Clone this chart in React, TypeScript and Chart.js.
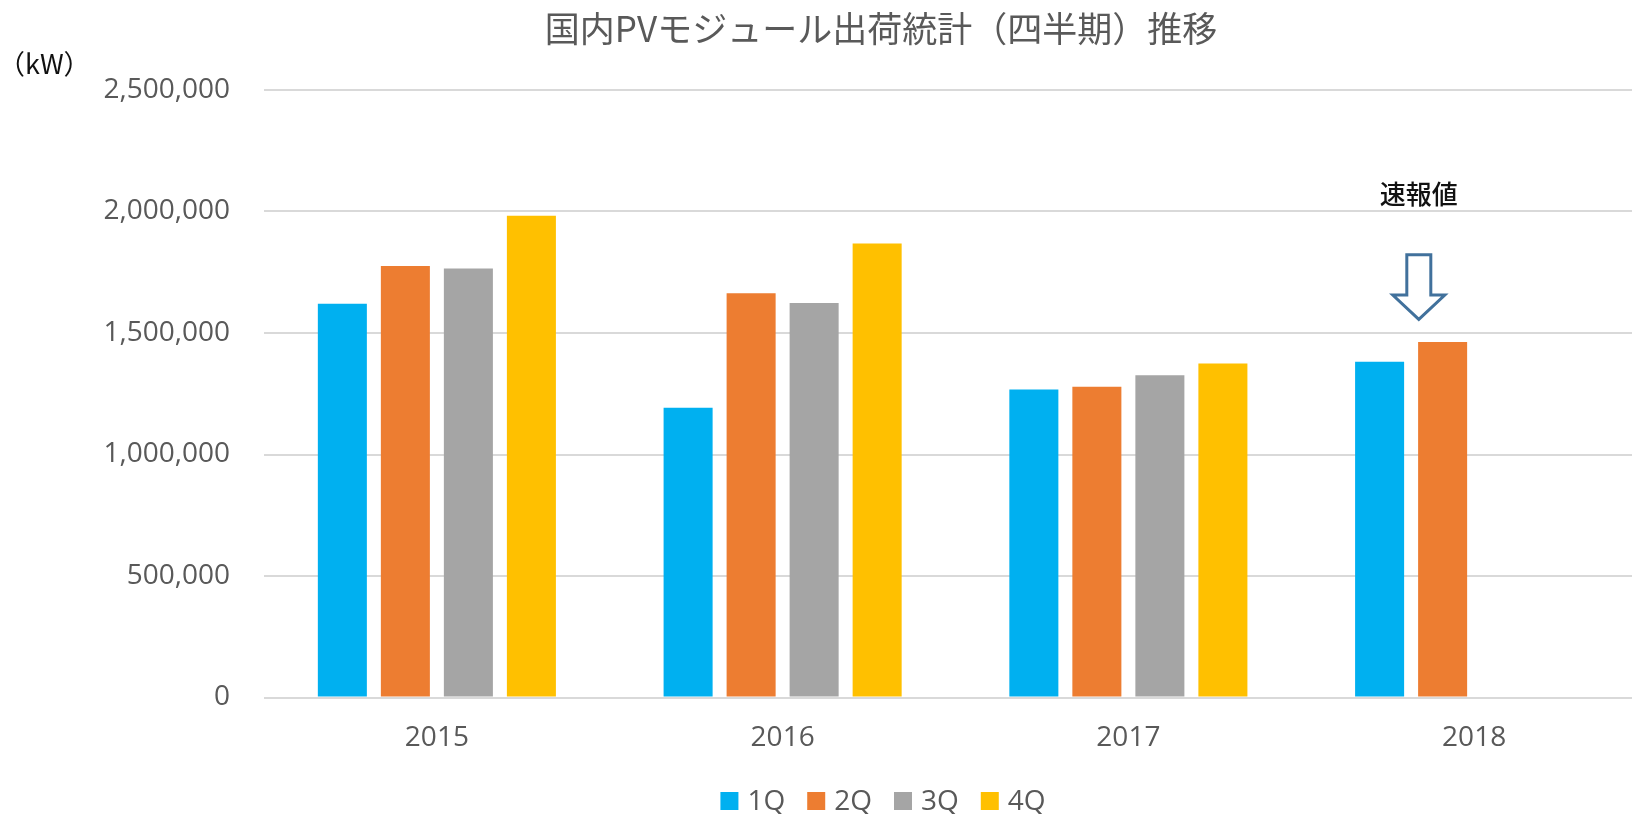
import React, { useEffect, useRef } from "react";
import { Chart, registerables } from "chart.js";

Chart.register(...registerables);

const CATEGORIES = ["2015", "2016", "2017", "2018"];
const SERIES_LABELS = ["1Q", "2Q", "3Q", "4Q"];
const Q1 = [1620000, 1192000, 1268000, 1382000];
const Q2 = [1776000, 1664000, 1279000, 1463000];
const Q3 = [1765000, 1623000, 1326000, null];
const Q4 = [1982000, 1868000, 1375000, null];
const SERIES_COLORS = ["#00B0F0", "#ED7D31", "#A5A5A5", "#FFC000"];
const Y_MIN = 0;
const Y_MAX = 2500000;
const Y_STEP = 500000;

const TITLE = "国内PVモジュール出荷統計（四半期）推移";
const Y_UNIT = "（kW）";
const NOTE_TEXT = "速報値";
const NOTE_CATEGORY = 3;
const NOTE_OFFSET = -0.16; // fraction of category width
const NOTE_TEXT_VALUE = 2070000;
const ARROW_TOP_VALUE = 1822000;
const ARROW_HEAD_VALUE = 1656000;
const ARROW_TIP_VALUE = 1556000;

const TEXT_COLOR = "#595959";
const GRID_COLOR = "#D9D9D9";
const LATIN_FONT = '"Open Sans"';
const CJK_FONT = '"Noto Sans CJK JP"';
const TICK_SIZE = 28;

const annotationPlugin = {
  id: "noteAnnotation",
  afterDatasetsDraw(chart: any) {
    const ctx = chart.ctx;
    const xs = chart.scales.x;
    const ys = chart.scales.y;
    const catW = xs.width / CATEGORIES.length;
    const cx = xs.getPixelForValue(NOTE_CATEGORY) + NOTE_OFFSET * catW;
    ctx.save();
    ctx.font = `500 26px ${CJK_FONT}`;
    ctx.fillStyle = "#111111";
    ctx.textAlign = "center";
    ctx.textBaseline = "middle";
    ctx.fillText(NOTE_TEXT, cx, ys.getPixelForValue(NOTE_TEXT_VALUE));
    const top = ys.getPixelForValue(ARROW_TOP_VALUE);
    const head = ys.getPixelForValue(ARROW_HEAD_VALUE);
    const tip = ys.getPixelForValue(ARROW_TIP_VALUE);
    const sw = 12;
    const hw = 26;
    ctx.beginPath();
    ctx.moveTo(cx - sw, top);
    ctx.lineTo(cx + sw, top);
    ctx.lineTo(cx + sw, head);
    ctx.lineTo(cx + hw, head);
    ctx.lineTo(cx, tip);
    ctx.lineTo(cx - hw, head);
    ctx.lineTo(cx - sw, head);
    ctx.closePath();
    ctx.fillStyle = "#FFFFFF";
    ctx.fill();
    ctx.lineWidth = 3;
    ctx.strokeStyle = "#41719C";
    ctx.lineJoin = "miter";
    ctx.stroke();
    ctx.restore();
  },
  afterDraw(chart: any) {
    const ctx = chart.ctx;
    const ys = chart.scales.y;
    const area = chart.chartArea;
    ctx.save();
    // unit label
    ctx.font = `27px ${CJK_FONT}`;
    ctx.fillStyle = "#111111";
    ctx.textAlign = "left";
    ctx.textBaseline = "middle";
    ctx.fillText(Y_UNIT, -2, ys.getPixelForValue(Y_MAX) - 26);

    // legend
    ctx.font = `${TICK_SIZE}px ${LATIN_FONT}`;
    const box = 18;
    const gap = 9;
    const between = 22;
    const widths = SERIES_LABELS.map((t) => ctx.measureText(t).width);
    const total =
      widths.reduce((a, w) => a + box + gap + w, 0) + between * (SERIES_LABELS.length - 1);
    let x = chart.width / 2 + 2 - total / 2;
    const cy = area.bottom + 103.5;
    SERIES_LABELS.forEach((t, i) => {
      ctx.fillStyle = SERIES_COLORS[i];
      ctx.fillRect(x, cy - box / 2, box, box);
      ctx.fillStyle = TEXT_COLOR;
      ctx.textBaseline = "middle";
      ctx.fillText(t, x + box + gap, cy + 1);
      x += box + gap + widths[i] + between;
    });
    ctx.restore();
  },
};

export default function App() {
  const canvasRef = useRef<HTMLCanvasElement | null>(null);

  useEffect(() => {
    let chart: Chart | null = null;
    let cancelled = false;
    const build = () => {
      if (cancelled || !canvasRef.current) return;
      const datasets = [Q1, Q2, Q3, Q4].map((data, i) => ({
        label: SERIES_LABELS[i],
        data,
        backgroundColor: SERIES_COLORS[i],
        borderWidth: 0,
        categoryPercentage: 0.729,
        barPercentage: 0.778,
        yAxisID: "y",
      }));
      chart = new Chart(canvasRef.current, {
        type: "bar",
        data: { labels: CATEGORIES, datasets },
        plugins: [annotationPlugin],
        options: {
          animation: false,
          responsive: true,
          maintainAspectRatio: false,
          layout: { padding: { left: 0, right: 0, top: 0, bottom: 0 } },
          plugins: {
            title: {
              display: true,
              text: TITLE,
              color: TEXT_COLOR,
              font: { family: CJK_FONT, size: 35, weight: "normal", lineHeight: 1.2 },
              padding: { top: 8, bottom: 40 },
            },
            legend: { display: false },
            tooltip: { enabled: false },
          },
          scales: {
            x: {
              grid: { display: false, drawTicks: false },
              border: { display: false },
              ticks: {
                color: TEXT_COLOR,
                font: { family: LATIN_FONT, size: TICK_SIZE },
                padding: 24,
              },
              afterFit: (s: any) => {
                s.height = 116.5;
              },
            },
            y: {
              min: Y_MIN,
              max: Y_MAX,
              grid: { color: GRID_COLOR, lineWidth: 2, drawTicks: false },
              border: { display: false },
              ticks: {
                stepSize: Y_STEP,
                color: TEXT_COLOR,
                font: { family: LATIN_FONT, size: TICK_SIZE },
                padding: 34,
                callback: (v: any) => Number(v).toLocaleString("en-US"),
              },
              afterFit: (s: any) => {
                s.width = 264;
              },
            },
            yRight: {
              position: "right",
              display: true,
              grid: { display: false, drawTicks: false },
              border: { display: false },
              ticks: { display: false },
              afterFit: (s: any) => {
                s.width = 115;
              },
            },
          },
        },
      });
    };
    const fontsReady = (document as any).fonts
      ? Promise.all([
          (document as any).fonts.load(`27px ${LATIN_FONT}`),
          (document as any).fonts.load(`35px ${CJK_FONT}`, TITLE + NOTE_TEXT + Y_UNIT),
        ]).catch(() => null)
      : Promise.resolve(null);
    fontsReady.then(build);
    return () => {
      cancelled = true;
      if (chart) chart.destroy();
    };
  }, []);

  return (
    <div
      style={{
        position: "fixed",
        left: 0,
        top: 0,
        width: 1632,
        height: 814,
        overflow: "hidden",
        background: "#FFFFFF",
      }}
    >
      <div style={{ position: "relative", width: 1762, height: 814 }}>
        <canvas ref={canvasRef} />
      </div>
    </div>
  );
}
